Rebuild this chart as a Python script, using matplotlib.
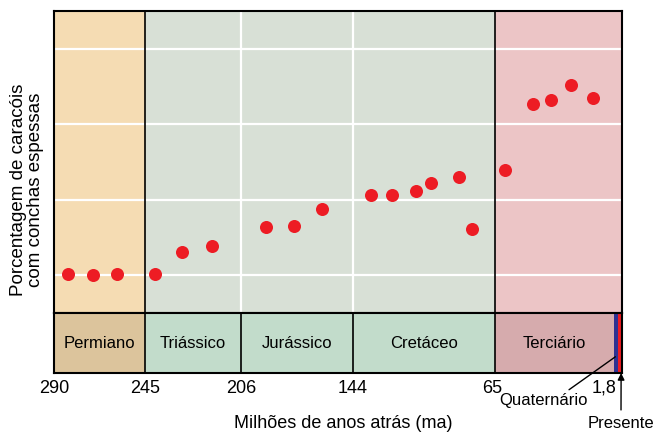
import numpy as np
import matplotlib
matplotlib.use("Agg")
import matplotlib.pyplot as plt
from matplotlib.transforms import ScaledTranslation

plt.rcParams['font.family'] = ['Liberation Sans', 'DejaVu Sans']

# --- dados (milhoes de anos atras, porcentagem relativa) ---
idade = [283.2, 270.6, 259.0,
         240.9, 229.8, 217.7,
         192.2, 176.7, 161.2,
         134.0, 122.3, 108.9, 100.6, 85.0, 77.8,
         59.7, 45.0, 35.3, 24.8, 13.1]
porcentagem = [5.13, 5.08, 5.13,
               5.2, 8.04, 8.83,
               11.35, 11.48, 13.81,
               15.67, 15.67, 16.12, 17.26, 17.97, 11.17,
               18.98, 27.68, 28.21, 30.16, 28.52]

periodos = ['Permiano', 'Triássico', 'Jurássico', 'Cretáceo', 'Terciário']
inicio = [290, 245, 206, 144, 65]
fim = [245, 206, 144, 65, 1.8]
ticks = [290, 245, 206, 144, 65, 1.8]
tick_labels = ['290', '245', '206', '144', '65', '1,8']

# escala nao linear do desenho original (distancia a partir da direita)
ma_pts = [0, 1.8, 65, 144, 206, 245, 290]
pos_pts = [0, 8, 127, 269, 381, 477, 568]

def forward(x):
    return np.interp(x, ma_pts, pos_pts)

def inverse(u):
    return np.interp(u, pos_pts, ma_pts)

cor_topo = ['#f5dcb3', '#d8e0d6', '#d8e0d6', '#d8e0d6', '#ecc5c6']
cor_base = ['#dcc49c', '#c2dccb', '#c2dccb', '#c2dccb', '#d6abad']

W, H = 655, 434
fig = plt.figure(figsize=(6.55, 4.34), dpi=100)
ax = fig.add_axes([54/W, (H-313)/H, (622-54)/W, 302/H])
ax2 = fig.add_axes([54/W, (H-373)/H, (622-54)/W, 60/H], sharex=ax)

for a in (ax, ax2):
    a.set_xscale('function', functions=(forward, inverse))
ax.set_xlim(290, 0)
ax.set_ylim(0, 40)
ax2.set_ylim(0, 1)

# fundo do grafico
for i in range(len(periodos)):
    ax.axvspan(inicio[i], fim[i], color=cor_topo[i], lw=0, zorder=0)
ax.axvspan(1.8, 0, color=cor_topo[-1], lw=0, zorder=0)
for yy in [5, 15, 25, 35]:
    ax.axhline(yy, color='white', lw=1.6, zorder=1)
for xx in [206, 144]:
    ax.axvline(xx, color='white', lw=1.6, zorder=1)
for xx in [245, 65]:
    ax.axvline(xx, color='black', lw=1.2, zorder=2)

ax.scatter(idade, porcentagem, s=88, color='#ed1c24', lw=0, zorder=3)

# faixa dos periodos
for i, nome in enumerate(periodos):
    ax2.axvspan(inicio[i], fim[i], color=cor_base[i], lw=0, zorder=0)
    meio = inverse((forward(inicio[i]) + forward(fim[i])) / 2)
    ax2.text(meio, 0.5, nome, ha='center', va='center', fontsize=12)
ax2.axvspan(1.8, 1.0, color='#2e3192', lw=0)
ax2.axvspan(1.0, 0, color='#ed1c24', lw=0)
for xx in [245, 206, 144, 65]:
    ax2.axvline(xx, color='black', lw=1.2)

for a in (ax, ax2):
    a.set_yticks([])
    for s in a.spines.values():
        s.set_linewidth(1.5)
ax.tick_params(axis='x', bottom=False, labelbottom=False)

ax2.set_xticks(ticks)
ax2.set_xticklabels(tick_labels)
ax2.tick_params(axis='x', length=0, pad=5, labelsize=13)
labs = ax2.get_xticklabels()
labs[4].set_transform(labs[4].get_transform() + ScaledTranslation(-3/100, 0, fig.dpi_scale_trans))
labs[5].set_transform(labs[5].get_transform() + ScaledTranslation(-10/100, 0, fig.dpi_scale_trans))

fig.text(343/W, 1 - 424/H, 'Milhões de anos atrás (ma)', ha='center', va='center', fontsize=13)
fig.text(27/W, 1 - 190/H, 'Porcentagem de caracóis\ncom conchas espessas',
         rotation=90, ha='center', va='center', fontsize=13.5, linespacing=1.0)

ax2.annotate('Quaternário', xy=(1.5, 0.27), xycoords=('data', 'axes fraction'),
             xytext=(543, H - 400), textcoords='figure pixels',
             ha='center', va='center', fontsize=12,
             arrowprops=dict(arrowstyle='-', color='black', lw=1, relpos=(0.75, 1),
                             shrinkA=0, shrinkB=0))
ax2.annotate('Presente', xy=(0.2, 0), xycoords=('data', 'axes fraction'),
             xytext=(621, H - 423), textcoords='figure pixels',
             ha='center', va='center', fontsize=12,
             arrowprops=dict(arrowstyle='-|>', color='black', lw=1, relpos=(0.5, 1),
                             shrinkA=2, shrinkB=0, mutation_scale=10))

fig.savefig('out.png', dpi=100)
